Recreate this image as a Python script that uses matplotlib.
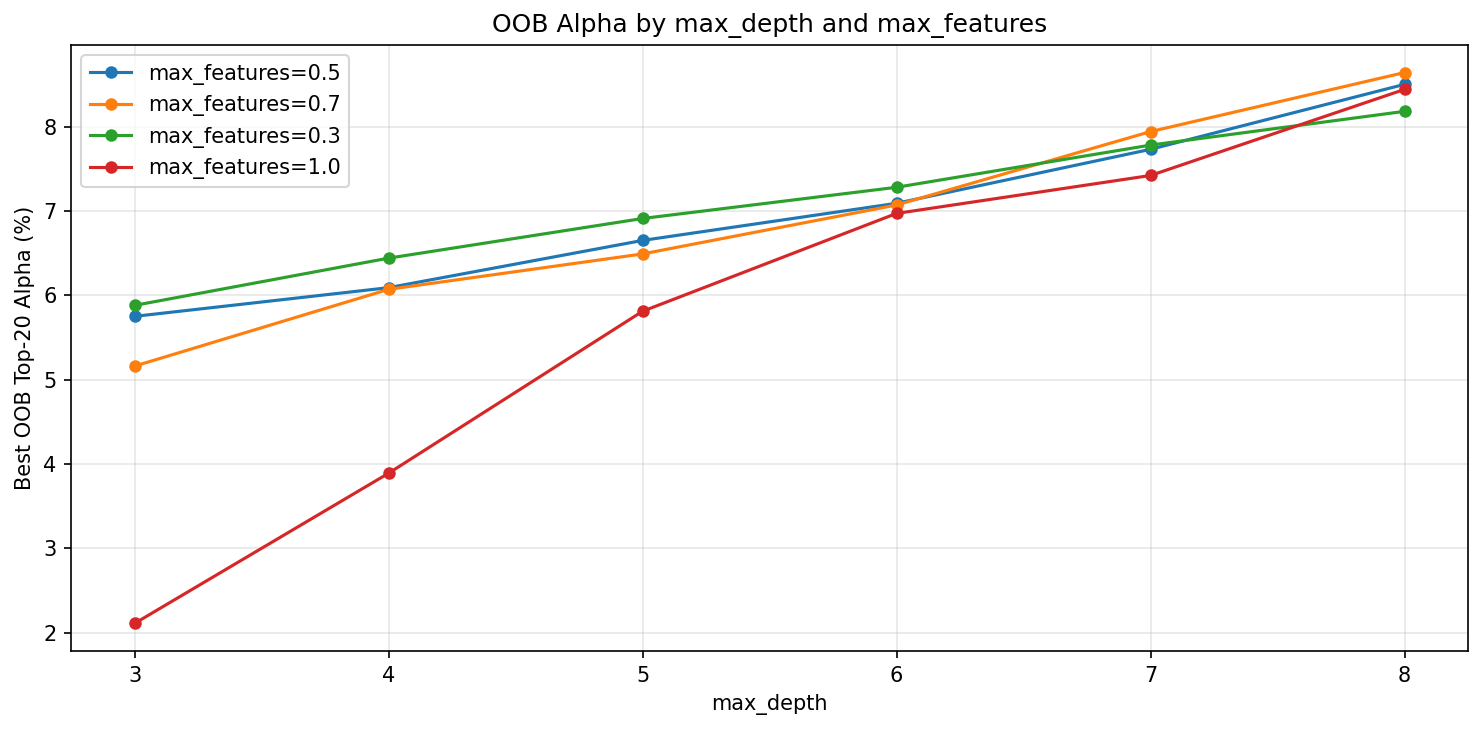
import matplotlib
matplotlib.use("Agg")
import matplotlib.pyplot as plt

depths = [3, 4, 5, 6, 7, 8]
labels = ["max_features=0.5", "max_features=0.7", "max_features=0.3", "max_features=1.0"]
alpha_05 = [5.75, 6.09, 6.65, 7.09, 7.73, 8.50]
alpha_07 = [5.16, 6.07, 6.49, 7.07, 7.94, 8.64]
alpha_03 = [5.88, 6.44, 6.91, 7.28, 7.78, 8.18]
alpha_10 = [2.11, 3.89, 5.81, 6.97, 7.42, 8.44]
series = [alpha_05, alpha_07, alpha_03, alpha_10]

fig, ax = plt.subplots(figsize=(1484/150, 731/150), dpi=150)
for lab, vals in zip(labels, series):
    ax.plot(depths, vals, marker="o", markersize=5, label=lab)
ax.set_xlabel("max_depth")
ax.set_ylabel("Best OOB Top-20 Alpha (%)")
ax.set_title("OOB Alpha by max_depth and max_features")
ax.grid(True, alpha=0.3)
ax.legend(loc="upper left")
fig.subplots_adjust(left=71/1484, right=1468/1484, top=1-45/731, bottom=1-651/731)
fig.savefig("out.png", dpi=150)
